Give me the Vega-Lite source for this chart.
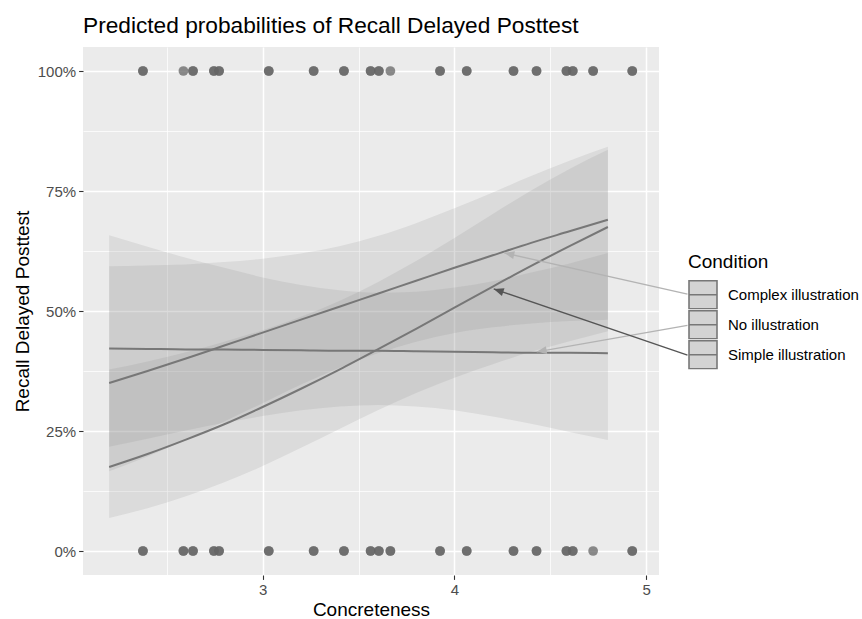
{
  "$schema": "https://vega.github.io/schema/vega-lite/v6.json",
  "width": 576,
  "height": 528,
  "autosize": "none",
  "padding": {"left": 83, "top": 47, "right": 203, "bottom": 44},
  "background": "white",
  "config": {
    "font": "Liberation Sans",
    "view": {"fill": "#ebebeb", "stroke": null},
    "axis": {
      "domain": false,
      "grid": true,
      "gridColor": "white",
      "tickColor": "#333333",
      "tickSize": 4.4,
      "tickWidth": 1.1,
      "labelColor": "#4d4d4d",
      "labelFontSize": 15,
      "labelFont": "Liberation Sans",
      "titleFont": "Liberation Sans",
      "titleFontSize": 19,
      "titleFontWeight": "normal",
      "titleColor": "#000000"
    }
  },
  "title": {
    "text": "Predicted probabilities of Recall Delayed Posttest",
    "anchor": "start",
    "frame": "group",
    "font": "Liberation Sans",
    "fontSize": 22.7,
    "fontWeight": "normal",
    "color": "#000000",
    "offset": 9
  },
  "datasets": {
    "pred": [
      {"Concreteness": 2.2, "Condition": "Complex illustration", "predicted": 0.350, "conf_low": 0.166, "conf_high": 0.593},
      {"Concreteness": 2.4, "Condition": "Complex illustration", "predicted": 0.375, "conf_low": 0.197, "conf_high": 0.595},
      {"Concreteness": 2.6, "Condition": "Complex illustration", "predicted": 0.401, "conf_low": 0.232, "conf_high": 0.597},
      {"Concreteness": 2.8, "Condition": "Complex illustration", "predicted": 0.428, "conf_low": 0.270, "conf_high": 0.602},
      {"Concreteness": 3.0, "Condition": "Complex illustration", "predicted": 0.455, "conf_low": 0.308, "conf_high": 0.609},
      {"Concreteness": 3.2, "Condition": "Complex illustration", "predicted": 0.482, "conf_low": 0.347, "conf_high": 0.620},
      {"Concreteness": 3.4, "Condition": "Complex illustration", "predicted": 0.509, "conf_low": 0.382, "conf_high": 0.635},
      {"Concreteness": 3.6, "Condition": "Complex illustration", "predicted": 0.536, "conf_low": 0.412, "conf_high": 0.656},
      {"Concreteness": 3.8, "Condition": "Complex illustration", "predicted": 0.563, "conf_low": 0.436, "conf_high": 0.683},
      {"Concreteness": 4.0, "Condition": "Complex illustration", "predicted": 0.590, "conf_low": 0.454, "conf_high": 0.714},
      {"Concreteness": 4.2, "Condition": "Complex illustration", "predicted": 0.616, "conf_low": 0.466, "conf_high": 0.747},
      {"Concreteness": 4.4, "Condition": "Complex illustration", "predicted": 0.642, "conf_low": 0.474, "conf_high": 0.781},
      {"Concreteness": 4.6, "Condition": "Complex illustration", "predicted": 0.666, "conf_low": 0.479, "conf_high": 0.813},
      {"Concreteness": 4.8, "Condition": "Complex illustration", "predicted": 0.690, "conf_low": 0.482, "conf_high": 0.842},
      {"Concreteness": 2.2, "Condition": "No illustration", "predicted": 0.422, "conf_low": 0.217, "conf_high": 0.658},
      {"Concreteness": 2.4, "Condition": "No illustration", "predicted": 0.421, "conf_low": 0.234, "conf_high": 0.634},
      {"Concreteness": 2.6, "Condition": "No illustration", "predicted": 0.420, "conf_low": 0.251, "conf_high": 0.611},
      {"Concreteness": 2.8, "Condition": "No illustration", "predicted": 0.420, "conf_low": 0.267, "conf_high": 0.590},
      {"Concreteness": 3.0, "Condition": "No illustration", "predicted": 0.419, "conf_low": 0.281, "conf_high": 0.570},
      {"Concreteness": 3.2, "Condition": "No illustration", "predicted": 0.418, "conf_low": 0.293, "conf_high": 0.554},
      {"Concreteness": 3.4, "Condition": "No illustration", "predicted": 0.417, "conf_low": 0.301, "conf_high": 0.543},
      {"Concreteness": 3.6, "Condition": "No illustration", "predicted": 0.417, "conf_low": 0.304, "conf_high": 0.538},
      {"Concreteness": 3.8, "Condition": "No illustration", "predicted": 0.416, "conf_low": 0.301, "conf_high": 0.540},
      {"Concreteness": 4.0, "Condition": "No illustration", "predicted": 0.415, "conf_low": 0.293, "conf_high": 0.549},
      {"Concreteness": 4.2, "Condition": "No illustration", "predicted": 0.414, "conf_low": 0.280, "conf_high": 0.562},
      {"Concreteness": 4.4, "Condition": "No illustration", "predicted": 0.413, "conf_low": 0.265, "conf_high": 0.580},
      {"Concreteness": 4.6, "Condition": "No illustration", "predicted": 0.413, "conf_low": 0.248, "conf_high": 0.599},
      {"Concreteness": 4.8, "Condition": "No illustration", "predicted": 0.412, "conf_low": 0.231, "conf_high": 0.621},
      {"Concreteness": 2.2, "Condition": "Simple illustration", "predicted": 0.175, "conf_low": 0.069, "conf_high": 0.378},
      {"Concreteness": 2.4, "Condition": "Simple illustration", "predicted": 0.202, "conf_low": 0.089, "conf_high": 0.395},
      {"Concreteness": 2.6, "Condition": "Simple illustration", "predicted": 0.232, "conf_low": 0.114, "conf_high": 0.414},
      {"Concreteness": 2.8, "Condition": "Simple illustration", "predicted": 0.264, "conf_low": 0.143, "conf_high": 0.436},
      {"Concreteness": 3.0, "Condition": "Simple illustration", "predicted": 0.300, "conf_low": 0.177, "conf_high": 0.460},
      {"Concreteness": 3.2, "Condition": "Simple illustration", "predicted": 0.338, "conf_low": 0.215, "conf_high": 0.488},
      {"Concreteness": 3.4, "Condition": "Simple illustration", "predicted": 0.378, "conf_low": 0.254, "conf_high": 0.521},
      {"Concreteness": 3.6, "Condition": "Simple illustration", "predicted": 0.420, "conf_low": 0.293, "conf_high": 0.560},
      {"Concreteness": 3.8, "Condition": "Simple illustration", "predicted": 0.463, "conf_low": 0.329, "conf_high": 0.604},
      {"Concreteness": 4.0, "Condition": "Simple illustration", "predicted": 0.507, "conf_low": 0.361, "conf_high": 0.652},
      {"Concreteness": 4.2, "Condition": "Simple illustration", "predicted": 0.551, "conf_low": 0.389, "conf_high": 0.702},
      {"Concreteness": 4.4, "Condition": "Simple illustration", "predicted": 0.594, "conf_low": 0.415, "conf_high": 0.751},
      {"Concreteness": 4.6, "Condition": "Simple illustration", "predicted": 0.635, "conf_low": 0.437, "conf_high": 0.796},
      {"Concreteness": 4.8, "Condition": "Simple illustration", "predicted": 0.675, "conf_low": 0.458, "conf_high": 0.836}
    ],
    "pts": [
      {"Concreteness": 2.376, "Recall": 1}, {"Concreteness": 2.376, "Recall": 1},
      {"Concreteness": 2.587, "Recall": 1},
      {"Concreteness": 2.637, "Recall": 1}, {"Concreteness": 2.637, "Recall": 1},
      {"Concreteness": 2.746, "Recall": 1}, {"Concreteness": 2.746, "Recall": 1},
      {"Concreteness": 2.773, "Recall": 1}, {"Concreteness": 2.773, "Recall": 1},
      {"Concreteness": 3.032, "Recall": 1}, {"Concreteness": 3.032, "Recall": 1},
      {"Concreteness": 3.266, "Recall": 1}, {"Concreteness": 3.266, "Recall": 1},
      {"Concreteness": 3.424, "Recall": 1}, {"Concreteness": 3.424, "Recall": 1},
      {"Concreteness": 3.563, "Recall": 1}, {"Concreteness": 3.563, "Recall": 1},
      {"Concreteness": 3.606, "Recall": 1}, {"Concreteness": 3.606, "Recall": 1},
      {"Concreteness": 3.666, "Recall": 1},
      {"Concreteness": 3.925, "Recall": 1}, {"Concreteness": 3.925, "Recall": 1},
      {"Concreteness": 4.064, "Recall": 1}, {"Concreteness": 4.064, "Recall": 1},
      {"Concreteness": 4.308, "Recall": 1}, {"Concreteness": 4.308, "Recall": 1},
      {"Concreteness": 4.428, "Recall": 1}, {"Concreteness": 4.428, "Recall": 1},
      {"Concreteness": 4.584, "Recall": 1}, {"Concreteness": 4.584, "Recall": 1},
      {"Concreteness": 4.617, "Recall": 1}, {"Concreteness": 4.617, "Recall": 1},
      {"Concreteness": 4.723, "Recall": 1}, {"Concreteness": 4.723, "Recall": 1},
      {"Concreteness": 4.927, "Recall": 1}, {"Concreteness": 4.927, "Recall": 1},
      {"Concreteness": 2.376, "Recall": 0}, {"Concreteness": 2.376, "Recall": 0},
      {"Concreteness": 2.587, "Recall": 0}, {"Concreteness": 2.587, "Recall": 0},
      {"Concreteness": 2.637, "Recall": 0}, {"Concreteness": 2.637, "Recall": 0},
      {"Concreteness": 2.746, "Recall": 0}, {"Concreteness": 2.746, "Recall": 0},
      {"Concreteness": 2.773, "Recall": 0}, {"Concreteness": 2.773, "Recall": 0},
      {"Concreteness": 3.032, "Recall": 0}, {"Concreteness": 3.032, "Recall": 0},
      {"Concreteness": 3.266, "Recall": 0}, {"Concreteness": 3.266, "Recall": 0},
      {"Concreteness": 3.424, "Recall": 0}, {"Concreteness": 3.424, "Recall": 0},
      {"Concreteness": 3.563, "Recall": 0}, {"Concreteness": 3.563, "Recall": 0},
      {"Concreteness": 3.606, "Recall": 0}, {"Concreteness": 3.606, "Recall": 0},
      {"Concreteness": 3.666, "Recall": 0}, {"Concreteness": 3.666, "Recall": 0},
      {"Concreteness": 3.925, "Recall": 0}, {"Concreteness": 3.925, "Recall": 0},
      {"Concreteness": 4.064, "Recall": 0}, {"Concreteness": 4.064, "Recall": 0},
      {"Concreteness": 4.308, "Recall": 0}, {"Concreteness": 4.308, "Recall": 0},
      {"Concreteness": 4.428, "Recall": 0}, {"Concreteness": 4.428, "Recall": 0},
      {"Concreteness": 4.584, "Recall": 0}, {"Concreteness": 4.584, "Recall": 0},
      {"Concreteness": 4.617, "Recall": 0}, {"Concreteness": 4.617, "Recall": 0},
      {"Concreteness": 4.723, "Recall": 0},
      {"Concreteness": 4.927, "Recall": 0}, {"Concreteness": 4.927, "Recall": 0}
    ],
    "arrows": [
      {"Condition": "Complex illustration", "x_from": 5.215, "y_from": 0.535, "x_to": 4.260, "y_to": 0.621},
      {"Condition": "No illustration", "x_from": 5.215, "y_from": 0.470, "x_to": 4.429, "y_to": 0.415},
      {"Condition": "Simple illustration", "x_from": 5.215, "y_from": 0.408, "x_to": 4.205, "y_to": 0.546}
    ]
  },
  "encoding": {
    "x": {
      "field": "Concreteness",
      "type": "quantitative",
      "scale": {"domain": [2.0635, 5.0665], "nice": false, "zero": false},
      "axis": {
        "title": "Concreteness",
        "format": "~g",
        "values": [2.5, 3, 3.5, 4, 4.5, 5],
        "labelExpr": "datum.value % 1 === 0 ? datum.label : ''",
        "gridWidth": {"condition": {"test": "datum.value % 1 !== 0", "value": 0.75}, "value": 1.5},
        "tickOpacity": {"condition": {"test": "datum.value % 1 !== 0", "value": 0}, "value": 1},
        "labelPadding": 3,
        "titlePadding": 3
      }
    }
  },
  "layer": [
    {
      "data": {"name": "pts"},
      "mark": {"type": "circle", "size": 95, "color": "#666666", "opacity": 0.75},
      "encoding": {
        "y": {
          "field": "Recall",
          "type": "quantitative",
          "scale": {"domain": [-0.05, 1.05], "nice": false, "zero": false},
          "axis": {
            "title": "Recall Delayed Posttest",
            "format": ".0%",
            "values": [0, 0.125, 0.25, 0.375, 0.5, 0.625, 0.75, 0.875, 1],
            "labelExpr": "(datum.value * 8) % 2 === 1 ? '' : datum.label",
            "gridWidth": {"condition": {"test": "(datum.value * 8) % 2 === 1", "value": 0.75}, "value": 1.5},
            "tickOpacity": {"condition": {"test": "(datum.value * 8) % 2 === 1", "value": 0}, "value": 1},
            "labelPadding": 3,
            "titlePadding": 5
          }
        }
      }
    },
    {
      "data": {"name": "pred"},
      "mark": {"type": "area", "color": "#7f7f7f", "opacity": 0.15, "interpolate": "monotone"},
      "encoding": {
        "y": {"field": "conf_low", "type": "quantitative"},
        "y2": {"field": "conf_high"},
        "detail": {"field": "Condition", "type": "nominal"}
      }
    },
    {
      "data": {"name": "pred"},
      "mark": {"type": "line", "strokeWidth": 2, "interpolate": "monotone"},
      "encoding": {
        "y": {"field": "predicted", "type": "quantitative"},
        "color": {
          "field": "Condition",
          "type": "nominal",
          "scale": {
            "domain": ["Complex illustration", "No illustration", "Simple illustration"],
            "range": ["#777777", "#777777", "#777777"]
          },
          "legend": {
            "title": "Condition",
            "orient": "none",
            "legendX": 605,
            "legendY": 206,
            "padding": 0,
            "titleFont": "Liberation Sans",
            "titleFontSize": 19,
            "titleFontWeight": "normal",
            "titleColor": "#000000",
            "titlePadding": 8,
            "labelFont": "Liberation Sans",
            "labelFontSize": 15,
            "labelColor": "#000000",
            "labelOffset": 10,
            "rowPadding": 0,
            "clipHeight": 29.6,
            "symbolType": "M-1,-1H1V1H-1Z M-1,0H1",
            "symbolSize": 784,
            "symbolStrokeWidth": 1.5,
            "encode": {
              "symbols": {
                "update": {
                  "fill": {"value": "#d3d3d3"},
                  "stroke": {"value": "#848484"},
                  "opacity": {"value": 1},
                  "fillOpacity": {"value": 1},
                  "strokeWidth": {"value": 1.6}
                }
              }
            }
          }
        }
      }
    },
    {
      "data": {"name": "arrows"},
      "transform": [{"filter": "datum.Condition !== 'Simple illustration'"}],
      "mark": {"type": "rule", "clip": false, "color": "#b3b3b3", "strokeWidth": 1.3},
      "encoding": {
        "x": {"field": "x_from", "type": "quantitative"},
        "y": {"field": "y_from", "type": "quantitative"},
        "x2": {"field": "x_to"},
        "y2": {"field": "y_to"}
      }
    },
    {
      "data": {"name": "arrows"},
      "transform": [{"filter": "datum.Condition === 'Simple illustration'"}],
      "mark": {"type": "rule", "clip": false, "color": "#555555", "strokeWidth": 1.3},
      "encoding": {
        "x": {"field": "x_from", "type": "quantitative"},
        "y": {"field": "y_from", "type": "quantitative"},
        "x2": {"field": "x_to"},
        "y2": {"field": "y_to"}
      }
    },
    {
      "data": {"name": "arrows"},
      "transform": [{"filter": "datum.Condition === 'Complex illustration'"}],
      "mark": {"type": "point", "filled": true, "shape": "M0,0L-0.8,2L0.8,2Z", "size": 100, "angle": 282.7, "color": "#b3b3b3", "opacity": 1, "strokeWidth": 0},
      "encoding": {
        "x": {"field": "x_to", "type": "quantitative"},
        "y": {"field": "y_to", "type": "quantitative"}
      }
    },
    {
      "data": {"name": "arrows"},
      "transform": [{"filter": "datum.Condition === 'No illustration'"}],
      "mark": {"type": "point", "filled": true, "shape": "M0,0L-0.8,2L0.8,2Z", "size": 100, "angle": 260.1, "color": "#b3b3b3", "opacity": 1, "strokeWidth": 0},
      "encoding": {
        "x": {"field": "x_to", "type": "quantitative"},
        "y": {"field": "y_to", "type": "quantitative"}
      }
    },
    {
      "data": {"name": "arrows"},
      "transform": [{"filter": "datum.Condition === 'Simple illustration'"}],
      "mark": {"type": "point", "filled": true, "shape": "M0,0L-0.8,2L0.8,2Z", "size": 100, "angle": 288.9, "color": "#555555", "opacity": 1, "strokeWidth": 0},
      "encoding": {
        "x": {"field": "x_to", "type": "quantitative"},
        "y": {"field": "y_to", "type": "quantitative"}
      }
    }
  ]
}
